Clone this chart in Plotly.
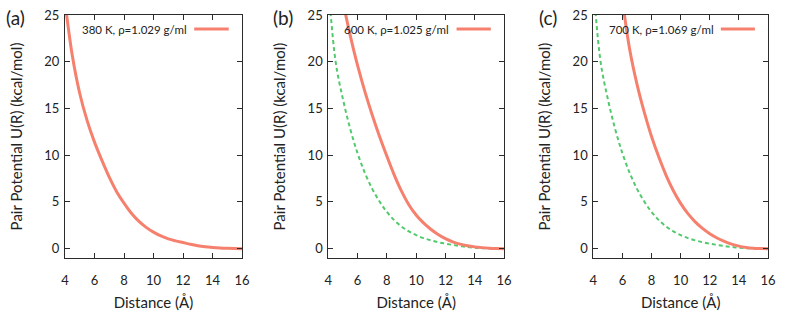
import plotly.graph_objects as go
from plotly.subplots import make_subplots

# ---- data ----
x_grid = [4.0, 4.5, 5.0, 5.5, 6.0, 6.5, 7.0, 7.5, 8.0, 8.5, 9.0, 9.5, 10.0,
          10.5, 11.0, 11.5, 12.0, 12.5, 13.0, 13.5, 14.0, 14.5, 15.0, 15.5, 16.0]

u_380K = [26.4, 20.6, 16.6, 13.7, 11.4, 9.45, 7.65, 6.1, 4.87, 3.79, 2.94, 2.28, 1.77,
          1.36, 1.05, 0.83, 0.65, 0.47, 0.32, 0.21, 0.13, 0.07, 0.035, 0.012, 0.0]

x_600K = x_grid[2:]
u_600K = [26.4, 22.8, 19.6, 16.8, 14.3, 12.0, 9.9, 7.9, 6.15, 4.7, 3.6,
          2.75, 2.08, 1.52, 1.07, 0.73, 0.48, 0.31, 0.19, 0.11, 0.055, 0.02, 0.0]

x_700K = x_grid[4:]
u_700K = [26.6, 21.3, 17.6, 14.6, 12.0, 9.8, 7.85, 6.2, 4.85,
          3.75, 2.87, 2.17, 1.6, 1.14, 0.77, 0.48, 0.27, 0.13, 0.05, 0.015, 0.0]

u_ref = [28.3, 20.0, 16.0, 12.8, 10.2, 8.1, 6.4, 5.05, 3.93, 3.05, 2.37, 1.85, 1.45,
         1.13, 0.89, 0.69, 0.54, 0.40, 0.28, 0.18, 0.10, 0.055, 0.025, 0.008, 0.0]

panel_labels = ["(a)", "(b)", "(c)"]
legend_texts = ["380 K, ρ=1.029 g/ml", "600 K, ρ=1.025 g/ml", "700 K, ρ=1.069 g/ml"]
x_ticks = [4, 6, 8, 10, 12, 14, 16]
y_ticks = [0, 5, 10, 15, 20, 25]

RED = "#f6806e"
GREEN = "#52c96c"
AX = "#2b2b2b"
TXT = "#222222"
FONT = "Lato"

W, H = 797, 311


def px(p):
    return p / W


def py(p):
    return 1 - p / H


fig = make_subplots(rows=1, cols=3)

red_series = [(x_grid, u_380K), (x_600K, u_600K), (x_700K, u_700K)]
for i, (xs, ys) in enumerate(red_series):
    col = i + 1
    if i > 0:
        fig.add_trace(go.Scatter(x=x_grid, y=u_ref, mode="lines", line_shape="spline",
                                 line=dict(color=GREEN, width=2, dash="4px,3px"),
                                 showlegend=False), row=1, col=col)
    fig.add_trace(go.Scatter(x=xs, y=ys, mode="lines", line_shape="spline",
                             line=dict(color=RED, width=3), showlegend=False),
                  row=1, col=col)

box_left = [65, 328.3, 593.3]
box_right = [242, 504, 768]
label_x = [16, 283, 548]
x_domains = [[px(l), px(r)] for l, r in zip(box_left, box_right)]
y_domain = [py(258), py(15)]

axis_common = dict(showline=True, linecolor=AX, linewidth=1, mirror="ticks",
                   ticks="inside", ticklen=5, tickcolor=AX, tickwidth=1,
                   showgrid=False, zeroline=False, automargin=False,
                   ticklabeloverflow="allow",
                   tickfont=dict(family=FONT, size=13, color=TXT))

for i in range(3):
    sfx = "" if i == 0 else str(i + 1)
    fig.layout["xaxis" + sfx].update(
        domain=x_domains[i], range=[4, 16], tickvals=x_ticks, ticklabelstandoff=10,
        title=dict(text="Distance (Å)", font=dict(family=FONT, size=15, color=TXT), standoff=10),
        **axis_common)
    fig.layout["yaxis" + sfx].update(
        domain=y_domain, range=[-1, 25], tickvals=y_ticks, ticklabelstandoff=2,
        title=dict(text="Pair Potential U(R) (kcal/mol)", font=dict(family=FONT, size=15, color=TXT), standoff=18),
        **axis_common)

    xref = "x" + sfx + " domain"
    yref = "y" + sfx + " domain"
    # legend entry: text + sample line
    fig.add_annotation(x=0.70, y=0.942, xref=xref, yref=yref, text=legend_texts[i],
                       showarrow=False, xanchor="right", yanchor="middle",
                       font=dict(family=FONT, size=11.5, color=TXT))
    fig.add_shape(type="line", xref=xref, yref=yref, x0=0.73, x1=0.925, y0=0.942, y1=0.942,
                  line=dict(color=RED, width=3))
    # panel label
    fig.add_annotation(x=px(label_x[i]), y=py(18), xref="paper", yref="paper",
                       text=panel_labels[i], showarrow=False, xanchor="center", yanchor="middle",
                       font=dict(family=FONT, size=19, color=TXT))

fig.update_layout(width=W, height=H, margin=dict(l=0, r=0, t=0, b=0),
                  paper_bgcolor="white", plot_bgcolor="white",
                  font=dict(family=FONT, color=TXT), showlegend=False)

fig.write_html("out.html", config={"displayModeBar": False},
               post_script="document.body.style.margin='0';document.body.style.overflow='hidden';")
